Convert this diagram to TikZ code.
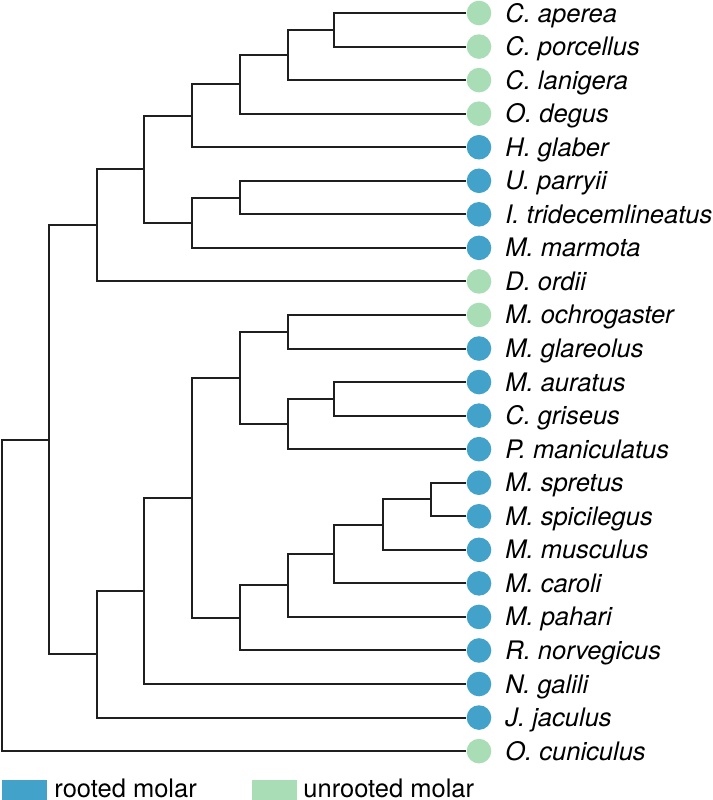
\documentclass[tikz,border=0pt]{standalone}
\usepackage{fontspec}
\setmainfont{TeX Gyre Heros}
\usepackage{tikz}
\usetikzlibrary{positioning,calc}

\begin{document}
\begin{tikzpicture}[x=.5pt,y=-.5pt,font=\fontsize{12.75}{15}\selectfont,
 branch/.style={line width=1pt,draw=black!88},
 tip/.style={circle,inner sep=0pt,minimum size=12.3pt,draw=none},
 taxon/.style={anchor=base west,inner sep=0pt,font=\fontsize{12.75}{15}\selectfont\itshape},
 legkey/.style={anchor=north west,inner sep=0pt,minimum width=22.5pt,minimum height=10pt},
 legtext/.style={anchor=base west,inner sep=0pt}]
\definecolor{rootblue}{HTML}{43A2CA}
\definecolor{openteal}{HTML}{A8DDB5}
\useasboundingbox (0,0) rectangle (713,800);
% tips, top to bottom
\foreach \id/\txt/\col [count=\k from 0] in {
 aperea/C. aperea/openteal, porcellus/C. porcellus/openteal,
 lanigera/C. lanigera/openteal, degus/O. degus/openteal,
 glaber/H. glaber/rootblue, parryii/U. parryii/rootblue,
 tridec/I. tridecemlineatus/rootblue, marmota/M. marmota/rootblue,
 ordii/D. ordii/openteal, ochro/M. ochrogaster/openteal,
 glareolus/M. glareolus/rootblue, auratus/M. auratus/rootblue,
 griseus/C. griseus/rootblue, manic/P. maniculatus/rootblue,
 spretus/M. spretus/rootblue, spicil/M. spicilegus/rootblue,
 musculus/M. musculus/rootblue, caroli/M. caroli/rootblue,
 pahari/M. pahari/rootblue, norveg/R. norvegicus/rootblue,
 galili/N. galili/rootblue, jaculus/J. jaculus/rootblue,
 cuniculus/O. cuniculus/openteal}
 {\node[tip,fill=\col] (\id) at (479,{13+33.55*\k}) {};
  \node[taxon] (\id-name) at (505,{22+33.55*\k}) {\txt};}
% internal nodes
\coordinate (cav1) at (334,29.78);
\coordinate (cav2) at (288,54.94);
\coordinate (cav3) at (240,84.29);
\coordinate (hys) at (192,115.75);
\coordinate (sci1) at (240,197.53);
\coordinate (sci2) at (192,222.69);
\coordinate (up1) at (144,169.22);
\coordinate (up2) at (97,225.31);
\coordinate (arv) at (288,331.73);
\coordinate (cri1) at (334,398.83);
\coordinate (cri2) at (288,423.99);
\coordinate (cri3) at (240,377.86);
\coordinate (mus1) at (431,499.48);
\coordinate (mus2) at (383,524.64);
\coordinate (mus3) at (334,554.0);
\coordinate (mus4) at (288,585.45);
\coordinate (mur1) at (240,617.95);
\coordinate (mur2) at (192,497.9);
\coordinate (mur3) at (144,590.95);
\coordinate (myo) at (97,654.25);
\coordinate (rod) at (49,439.78);
\coordinate (root) at (2,595.44);
\foreach \p/\c in {cav1/aperea,cav1/porcellus,cav2/cav1,cav2/lanigera,
 cav3/cav2,cav3/degus,hys/cav3,hys/glaber,sci1/parryii,sci1/tridec,
 sci2/sci1,sci2/marmota,up1/hys,up1/sci2,up2/up1,up2/ordii,
 arv/ochro,arv/glareolus,cri1/auratus,cri1/griseus,cri2/cri1,cri2/manic,
 cri3/arv,cri3/cri2,mus1/spretus,mus1/spicil,mus2/mus1,mus2/musculus,
 mus3/mus2,mus3/caroli,mus4/mus3,mus4/pahari,mur1/mus4,mur1/norveg,
 mur2/cri3,mur2/mur1,mur3/mur2,mur3/galili,myo/mur3,myo/jaculus,
 rod/up2,rod/myo,root/rod,root/cuniculus}
 \draw[branch] (\p) |- (\c);
% legend
\node[legkey,fill=rootblue] (keyrooted) at (2,780) {};
\node[legtext] (txtrooted) at (54,797) {rooted molar};
\node[legkey,fill=openteal] (keyunrooted) at (252,780) {};
\node[legtext] (txtunrooted) at (303,797) {unrooted molar};
\end{tikzpicture}
\end{document}
